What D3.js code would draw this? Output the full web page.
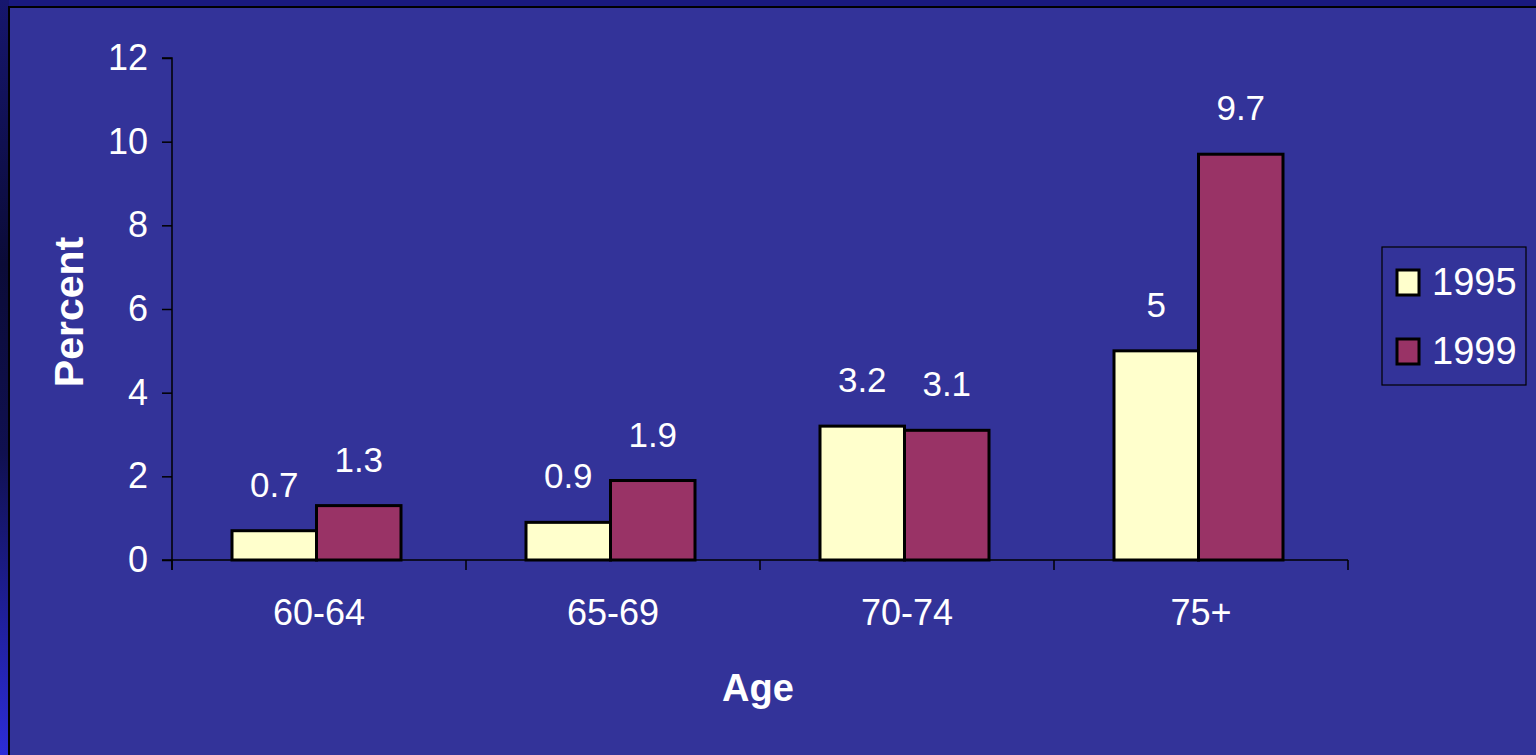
<!DOCTYPE html>
<html>
<head>
<meta charset="utf-8">
<script src="https://cdn.jsdelivr.net/npm/d3@7/dist/d3.min.js"></script>
<style>
  html, body { margin: 0; padding: 0; background: #333399; overflow: hidden; }
  svg { display: block; }
  text { font-family: "Liberation Sans", Arial, sans-serif; fill: #ffffff; }
</style>
</head>
<body>
<script>
// Share of people in each age group, by survey year
const ageGroups = ["60-64", "65-69", "70-74", "75+"];
const years = ["1995", "1999"];
const values1995 = [0.7, 0.9, 3.2, 5];
const values1999 = [1.3, 1.9, 3.1, 9.7];
const yTicks = [0, 2, 4, 6, 8, 10, 12];
const seriesColors = ["#FFFFCC", "#993366"];

const W = 1536, H = 755;
const svg = d3.select("body").append("svg").attr("width", W).attr("height", H);

// slide frame: dark strip on top, shaded strip on the left
const defs = svg.append("defs");
const grad = defs.append("linearGradient").attr("id", "sideShade")
  .attr("x1", 0).attr("y1", 0).attr("x2", 0).attr("y2", 1);
grad.append("stop").attr("offset", "0%").attr("stop-color", "#16166e");
grad.append("stop").attr("offset", "35%").attr("stop-color", "#0b0b38");
grad.append("stop").attr("offset", "60%").attr("stop-color", "#101050");
grad.append("stop").attr("offset", "100%").attr("stop-color", "#2c2cd8");

svg.append("rect").attr("x", 0).attr("y", 0).attr("width", W).attr("height", H).attr("fill", "#333399");
svg.append("rect").attr("x", 0).attr("y", 0).attr("width", W).attr("height", 7).attr("fill", "#19197e");
svg.append("rect").attr("x", 0).attr("y", 0).attr("width", 9).attr("height", H).attr("fill", "url(#sideShade)");
svg.append("line").attr("x1", 9).attr("x2", W).attr("y1", 7).attr("y2", 7)
  .attr("stroke", "#000").attr("stroke-width", 2);
svg.append("line").attr("x1", 9).attr("x2", 9).attr("y1", 6).attr("y2", H)
  .attr("stroke", "#000").attr("stroke-width", 2);

// plot area
const plot = { left: 172, right: 1348, top: 58, bottom: 560 };

const x0 = d3.scaleBand().domain(ageGroups).range([plot.left, plot.right]).padding(0);
const x1 = d3.scaleBand().domain(years)
  .range([60, x0.bandwidth() - 65]).padding(0);
const y = d3.scaleLinear().domain([0, 12]).range([plot.bottom, plot.top]);

// y axis
const yAxis = svg.append("g").attr("transform", `translate(${plot.left},0)`)
  .call(d3.axisLeft(y).tickValues(yTicks).tickSize(10).tickPadding(14).tickFormat(d3.format("d")));
yAxis.select(".domain").attr("stroke", "#000").attr("stroke-width", 1.5)
  .attr("d", `M-10,${plot.top}H0V${plot.bottom + 10}`);
yAxis.selectAll(".tick line").attr("stroke", "#000").attr("stroke-width", 1.5);
yAxis.selectAll(".tick text").attr("font-size", 36).attr("fill", "#fff")
  .style("font-family", "'Liberation Sans', Arial, sans-serif");

// x axis: baseline with ticks between categories
const xAxis = svg.append("g");
xAxis.append("line").attr("x1", plot.left - 10).attr("x2", plot.right)
  .attr("y1", y(0)).attr("y2", y(0)).attr("stroke", "#000").attr("stroke-width", 1.5);
const boundaries = ageGroups.map(g => x0(g)).concat([x0(ageGroups[ageGroups.length - 1]) + x0.bandwidth()]);
xAxis.selectAll("line.tk").data(boundaries).join("line").attr("class", "tk")
  .attr("x1", d => d).attr("x2", d => d)
  .attr("y1", y(0)).attr("y2", y(0) + 10)
  .attr("stroke", "#000").attr("stroke-width", 1.5);
xAxis.selectAll("text").data(ageGroups).join("text")
  .attr("x", d => x0(d) + x0.bandwidth() / 2)
  .attr("y", 625)
  .attr("text-anchor", "middle")
  .attr("font-size", 36)
  .text(d => d);

// bars
const seriesValues = [values1995, values1999];
const groups = svg.append("g").selectAll("g").data(ageGroups).join("g")
  .attr("transform", d => `translate(${x0(d)},0)`);

groups.each(function(g, gi) {
  const sel = d3.select(this);
  const rows = years.map((yr, si) => ({ yr, si, v: seriesValues[si][gi] }));
  sel.selectAll("rect").data(rows).join("rect")
    .attr("x", d => x1(d.yr))
    .attr("y", d => y(d.v))
    .attr("width", x1.bandwidth())
    .attr("height", d => y(0) - y(d.v))
    .attr("fill", d => seriesColors[d.si])
    .attr("stroke", "#000")
    .attr("stroke-width", 3);
  sel.selectAll("text").data(rows).join("text")
    .attr("x", d => x1(d.yr) + x1.bandwidth() / 2)
    .attr("y", d => y(d.v) - 34)
    .attr("text-anchor", "middle")
    .attr("font-size", 35)
    .text(d => d.v);
});

// axis titles
svg.append("text")
  .attr("transform", "translate(83,312) rotate(-90)")
  .attr("text-anchor", "middle")
  .attr("font-size", 41)
  .attr("font-weight", "bold")
  .text("Percent");
svg.append("text")
  .attr("x", 758).attr("y", 701)
  .attr("text-anchor", "middle")
  .attr("font-size", 38)
  .attr("font-weight", "bold")
  .text("Age");

// legend
const legend = svg.append("g").attr("transform", "translate(1382,247)");
legend.append("rect").attr("x", 0).attr("y", 0).attr("width", 144).attr("height", 138)
  .attr("fill", "none").attr("stroke", "#000").attr("stroke-width", 1.2);
const items = legend.selectAll("g").data(years).join("g")
  .attr("transform", (d, i) => `translate(0,${i === 0 ? 34 : 103})`);
items.append("rect").attr("x", 15).attr("y", -11).attr("width", 22).attr("height", 25)
  .attr("fill", (d, i) => seriesColors[i]).attr("stroke", "#000").attr("stroke-width", 3);
items.append("text").attr("x", 50).attr("y", 14).attr("font-size", 38).text(d => d);
</script>
</body>
</html>
